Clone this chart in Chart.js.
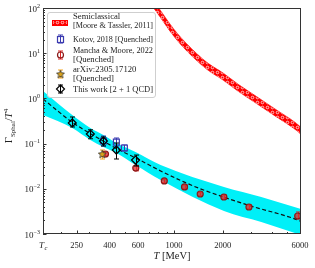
<!DOCTYPE html>
<html>
<head>
<meta charset="utf-8">
<script src="https://cdn.jsdelivr.net/npm/chart.js@4.4.0/dist/chart.umd.min.js"></script>
<style>
html, body { margin: 0; padding: 0; background: #fff; }
#wrap { width: 315px; height: 268px; position: relative; }
</style>
</head>
<body>
<div id="wrap"><canvas id="chartSphal"></canvas></div>
<script>
'use strict';

// axes (T in MeV, rate as Gamma/T^4)
var xMin = 155, xMax = 6080;
var yMin = 1e-3, yMax = 1e2;
var xMajor = [155, 250, 400, 600, 1000, 2000, 6000];
var xMajorLabels = ['Tc', '250', '400', '600', '1000', '2000', '6000'];
var xMinor = [200, 300, 500, 700, 800, 900, 3000, 4000, 5000];
var yMajor = [1e-3, 1e-2, 1e-1, 1, 10, 100];
var yExponents = ['\u22123', '\u22122', '\u22121', '0', '1', '2'];

// semiclassical band [Moore & Tassler, 2011]
var semiT = [740, 775, 1000, 1217, 1600, 2006, 2500, 3160, 4200, 5690, 6080];
var semiUpper = [149, 120, 33.5, 15.2, 6.2, 3.65, 2.03, 1.16, 0.585, 0.281, 0.227];
var semiLower = [105, 84, 23.4, 10.6, 4.35, 2.55, 1.42, 0.81, 0.41, 0.197, 0.159];

// Kotov, 2018 [Quenched]
var kotovT = [366, 440, 493];
var kotovY = [0.114, 0.108, 0.080];
var kotovLow = [0.0885, 0.0841, 0.0686];
var kotovHigh = [0.147, 0.133, 0.0931];

// Mancha & Moore, 2022 [Quenched]
var manchaT = [377, 580, 870, 1160, 1450, 2030, 2900, 5800];
var manchaY = [0.0589, 0.0288, 0.0149, 0.0110, 0.00767, 0.00659, 0.00396, 0.0025];
var manchaLow = [0.053, 0.025, 0.0135, 0.0100, 0.0070, 0.0059, 0.0036, 0.00215];
var manchaHigh = [0.065, 0.033, 0.0163, 0.0121, 0.0084, 0.0073, 0.0044, 0.00307];

// arXiv:2305.17120 [Quenched]
var arxivT = [360];
var arxivY = [0.0589];
var arxivLow = [0.0456];
var arxivHigh = [0.0722];

// This work [2+1 QCD]
var thisT = [235, 304, 366, 440, 578];
var thisY = [0.286, 0.163, 0.114, 0.072, 0.0433];
var thisLow = [0.233, 0.128, 0.0885, 0.0456, 0.0319];
var thisHigh = [0.388, 0.202, 0.140, 0.103, 0.0558];

// fit (dashed) and its error band
var fitT = [155, 235, 304, 366, 440, 578, 862, 1149, 1443, 2033, 2910, 5860, 6080];
var fitY = [0.97, 0.297, 0.166, 0.113, 0.078, 0.0483, 0.0230, 0.0142, 0.0101, 0.00652, 0.00427, 0.00202, 0.0019];
var bandT = [155, 235, 304, 366, 440, 578, 826, 2033, 3455, 6080];
var bandUpper = [1.46, 0.429, 0.221, 0.155, 0.103, 0.0652, 0.0336, 0.011, 0.0066, 0.00357];
var bandLower = [0.429, 0.221, 0.120, 0.0841, 0.062, 0.0336, 0.0157, 0.00323, 0.00184, 0.00095];

var serif = '"Liberation Serif", "DejaVu Serif", serif';
var navy = '#3a3ab0', red = '#e02020', orange = '#f5a623';

function pts(xs, ys) {
    return xs.map(function(x, i) { return { x: x, y: ys[i] }; });
}

function hatchPattern() {
    var c = document.createElement('canvas');
    c.width = 5; c.height = 5;
    var g = c.getContext('2d');
    g.fillStyle = '#ff0000';
    g.fillRect(0, 0, 5, 5);
    g.strokeStyle = 'rgba(255,255,255,0.9)';
    g.lineWidth = 0.8;
    g.beginPath();
    g.arc(2.5, 2.5, 1.3, 0, Math.PI * 2);
    g.stroke();
    return g.createPattern(c, 'repeat');
}
var hatch = hatchPattern();

function starPath(g, cx, cy, r) {
    g.beginPath();
    for (var i = 0; i < 10; i++) {
        var rr = i % 2 ? r * 0.45 : r;
        var a = -Math.PI / 2 + i * Math.PI / 5;
        g.lineTo(cx + rr * Math.cos(a), cy + rr * Math.sin(a));
    }
    g.closePath();
}
function starImage() {
    var c = document.createElement('canvas');
    c.width = 10; c.height = 10;
    var g = c.getContext('2d');
    starPath(g, 5, 5.4, 4.2);
    g.fillStyle = '#d9a21b';
    g.fill();
    g.strokeStyle = '#333';
    g.lineWidth = 0.8;
    g.stroke();
    return c;
}
var starImg = starImage();

// vertical error bars with caps, drawn under each marker set
var errorBars = {
    id: 'errorBars',
    beforeDatasetDraw: function(chart, args) {
        var ds = chart.data.datasets[args.index];
        if (!ds.errLow) return;
        var ctx = chart.ctx, xs = chart.scales.x, ys = chart.scales.y;
        ctx.save();
        ctx.strokeStyle = ds.errColor;
        ctx.lineWidth = 1;
        ds.data.forEach(function(p, i) {
            var px = Math.round(xs.getPixelForValue(p.x)) + 0.5;
            var y1 = ys.getPixelForValue(ds.errLow[i]);
            var y2 = ys.getPixelForValue(ds.errHigh[i]);
            ctx.beginPath();
            ctx.moveTo(px, y1); ctx.lineTo(px, y2);
            ctx.moveTo(px - 2.5, y1); ctx.lineTo(px + 2.5, y1);
            ctx.moveTo(px - 2.5, y2); ctx.lineTo(px + 2.5, y2);
            ctx.stroke();
        });
        ctx.restore();
    }
};

function legendMarker(ctx, kind, x, y) {
    ctx.save();
    ctx.lineWidth = 1;
    var col = { kotov: navy, mancha: red, arxiv: orange, thiswork: '#000' }[kind];
    ctx.strokeStyle = col;
    ctx.beginPath();
    ctx.moveTo(x + 0.5, y - 4); ctx.lineTo(x + 0.5, y + 4);
    ctx.moveTo(x - 2, y - 4); ctx.lineTo(x + 3, y - 4);
    ctx.moveTo(x - 2, y + 4); ctx.lineTo(x + 3, y + 4);
    ctx.stroke();
    ctx.lineWidth = 1.2;
    if (kind === 'kotov') {
        ctx.strokeRect(x - 2.5, y - 2.5, 6, 6);
    } else if (kind === 'mancha') {
        ctx.strokeStyle = '#8a1a1a';
        ctx.beginPath(); ctx.arc(x + 0.5, y, 3, 0, Math.PI * 2); ctx.stroke();
    } else if (kind === 'arxiv') {
        ctx.drawImage(starImg, x - 4.5, y - 5);
    } else {
        ctx.beginPath();
        ctx.moveTo(x + 0.5, y - 4); ctx.lineTo(x + 4.5, y);
        ctx.lineTo(x + 0.5, y + 4); ctx.lineTo(x - 3.5, y);
        ctx.closePath(); ctx.stroke();
    }
    ctx.restore();
}

// frame, inward ticks, labels, titles, legend
var frame = {
    id: 'frame',
    afterDraw: function(chart) {
        var ctx = chart.ctx, a = chart.chartArea;
        var xs = chart.scales.x, ys = chart.scales.y;
        ctx.save();
        ctx.strokeStyle = '#333';
        ctx.lineWidth = 1;
        ctx.strokeRect(a.left + 0.5, a.top + 0.5, a.right - a.left - 1, a.bottom - a.top - 1);

        ctx.beginPath();
        xMajor.forEach(function(v) {
            var px = Math.round(xs.getPixelForValue(v)) + 0.5;
            ctx.moveTo(px, a.bottom); ctx.lineTo(px, a.bottom - 3.5);
        });
        xMinor.forEach(function(v) {
            var px = Math.round(xs.getPixelForValue(v)) + 0.5;
            ctx.moveTo(px, a.bottom); ctx.lineTo(px, a.bottom - 2);
        });
        yMajor.forEach(function(v, k) {
            var py = Math.round(ys.getPixelForValue(v)) + 0.5;
            ctx.moveTo(a.left, py); ctx.lineTo(a.left + 3.5, py);
            if (k < yMajor.length - 1) {
                for (var m = 2; m < 10; m++) {
                    var pm = Math.round(ys.getPixelForValue(v * m)) + 0.5;
                    ctx.moveTo(a.left, pm); ctx.lineTo(a.left + 2, pm);
                }
            }
        });
        ctx.stroke();

        ctx.fillStyle = '#222';
        ctx.textBaseline = 'alphabetic';
        // y tick labels 10^k
        yMajor.forEach(function(v, k) {
            var py = ys.getPixelForValue(v);
            ctx.font = '6px ' + serif;
            var ew = ctx.measureText(yExponents[k]).width;
            ctx.textAlign = 'left';
            ctx.fillText(yExponents[k], a.left - 3 - ew, py - 0.5);
            ctx.font = '9px ' + serif;
            ctx.textAlign = 'right';
            ctx.fillText('10', a.left - 3 - ew, py + 3.5);
        });
        // x tick labels
        xMajor.forEach(function(v, k) {
            var px = xs.getPixelForValue(v);
            if (xMajorLabels[k] === 'Tc') {
                ctx.textAlign = 'left';
                ctx.font = 'italic 9px ' + serif;
                ctx.fillText('T', px - 4, 248);
                ctx.font = 'italic 6.5px ' + serif;
                ctx.fillText('c', px + 1.5, 250);
            } else {
                ctx.textAlign = 'center';
                ctx.font = '8.5px ' + serif;
                ctx.fillText(xMajorLabels[k], px, 248);
            }
        });
        // x title
        ctx.font = '10.5px ' + serif;
        var w2 = ctx.measureText(' [MeV]').width;
        ctx.font = 'italic 10.5px ' + serif;
        var w1 = ctx.measureText('T').width;
        var x0 = (a.left + a.right) / 2 - (w1 + w2) / 2;
        ctx.textAlign = 'left';
        ctx.fillText('T', x0, 259);
        ctx.font = '10.5px ' + serif;
        ctx.fillText(' [MeV]', x0 + w1, 259);

        // y title: Gamma_Sphal / T^4
        ctx.save();
        ctx.translate(12, 126);
        ctx.rotate(-Math.PI / 2);
        var parts = [
            { t: '\u0393', f: '10.5px ', dy: 0 },
            { t: 'Sphal', f: '7px ', dy: 2.5 },
            { t: '/', f: '10.5px ', dy: 0 },
            { t: 'T', f: 'italic 10.5px ', dy: 0 },
            { t: '4', f: '7px ', dy: -4.5 }
        ];
        var tw = 0;
        parts.forEach(function(p) { ctx.font = p.f + serif; p.w = ctx.measureText(p.t).width; tw += p.w; });
        var cx = -tw / 2;
        parts.forEach(function(p) { ctx.font = p.f + serif; ctx.fillText(p.t, cx, p.dy); cx += p.w; });
        ctx.restore();

        // legend
        var lx = 47, ly = 12, lw = 108, lh = 85;
        ctx.fillStyle = 'rgba(255,255,255,0.85)';
        ctx.strokeStyle = '#cfcfcf';
        ctx.lineWidth = 1;
        ctx.beginPath();
        ctx.roundRect(lx + 0.5, ly + 0.5, lw, lh, 2.5);
        ctx.fill();
        ctx.stroke();

        ctx.fillStyle = hatch;
        ctx.fillRect(52, 20, 16, 6);
        ctx.strokeStyle = '#ff0000';
        ctx.strokeRect(52.5, 20.5, 15, 5);
        legendMarker(ctx, 'kotov', 60, 39);
        legendMarker(ctx, 'mancha', 60, 55);
        legendMarker(ctx, 'arxiv', 60, 74);
        legendMarker(ctx, 'thiswork', 60, 89);

        ctx.fillStyle = '#222';
        ctx.textAlign = 'left';
        ctx.textBaseline = 'middle';
        ctx.font = '8.7px ' + serif;
        var lines = [
            ['Semiclassical', 17], ['[Moore & Tassler, 2011]', 25.5],
            ['Kotov, 2018 [Quenched]', 39.5],
            ['Mancha & Moore, 2022', 51], ['[Quenched]', 59.5],
            ['arXiv:2305.17120', 70], ['[Quenched]', 79],
            ['This work [2 + 1 QCD]', 89.5]
        ];
        lines.forEach(function(l) { ctx.fillText(l[0], 73, l[1], 80); });
        ctx.restore();
    }
};

var datasets = [
    {
        label: 'band upper', data: pts(bandT, bandUpper), showLine: true,
        borderWidth: 0, pointRadius: 0, backgroundColor: '#00f0f8',
        fill: '+1', cubicInterpolationMode: 'monotone', order: 10
    },
    {
        label: 'band lower', data: pts(bandT, bandLower), showLine: true,
        borderWidth: 0, pointRadius: 0, fill: false,
        cubicInterpolationMode: 'monotone', order: 10
    },
    {
        label: 'fit', data: pts(fitT, fitY), showLine: true, borderColor: '#111',
        borderWidth: 1.2, borderDash: [4, 2.5], pointRadius: 0, fill: false,
        cubicInterpolationMode: 'monotone', order: 9
    },
    {
        label: 'semi upper', data: pts(semiT, semiUpper), showLine: true,
        borderColor: '#ff0000', borderWidth: 0.6, pointRadius: 0,
        backgroundColor: hatch, fill: '+1', cubicInterpolationMode: 'monotone', order: 8
    },
    {
        label: 'semi lower', data: pts(semiT, semiLower), showLine: true,
        borderColor: '#ff0000', borderWidth: 0.6, pointRadius: 0, fill: false,
        cubicInterpolationMode: 'monotone', order: 8
    },
    {
        label: 'Mancha & Moore, 2022', data: pts(manchaT, manchaY),
        errLow: manchaLow, errHigh: manchaHigh, errColor: red,
        pointStyle: 'circle', pointRadius: 3, borderColor: '#8a1a1a', borderWidth: 1.2,
        backgroundColor: 'rgba(230,40,40,0.75)', order: 5
    },
    {
        label: 'Kotov, 2018', data: pts(kotovT, kotovY),
        errLow: kotovLow, errHigh: kotovHigh, errColor: navy,
        pointStyle: 'rect', pointRadius: 4.2, borderColor: navy, borderWidth: 1.2,
        backgroundColor: 'rgba(255,255,255,0)', order: 4
    },
    {
        label: 'arXiv:2305.17120', data: pts(arxivT, arxivY),
        errLow: arxivLow, errHigh: arxivHigh, errColor: orange,
        pointStyle: starImg, pointRadius: 5, order: 3
    },
    {
        label: 'This work', data: pts(thisT, thisY),
        errLow: thisLow, errHigh: thisHigh, errColor: '#000',
        pointStyle: 'rectRot', pointRadius: 4, borderColor: '#000', borderWidth: 1.2,
        backgroundColor: 'rgba(255,255,255,0)', order: 1
    }
];

var ctxSphal = document.getElementById('chartSphal');
var sphalChart = new Chart(ctxSphal, {
    type: 'scatter',
    data: { datasets: datasets },
    options: {
        responsive: true,
        maintainAspectRatio: false,
        animation: false,
        layout: { padding: { left: 43, right: 14, top: 8, bottom: 34 } },
        plugins: { legend: { display: false }, tooltip: { enabled: false } },
        scales: {
            x: { type: 'logarithmic', min: xMin, max: xMax, display: false },
            y: { type: 'logarithmic', min: yMin, max: yMax, display: false }
        }
    },
    plugins: [errorBars, frame]
});
</script>
</body>
</html>
